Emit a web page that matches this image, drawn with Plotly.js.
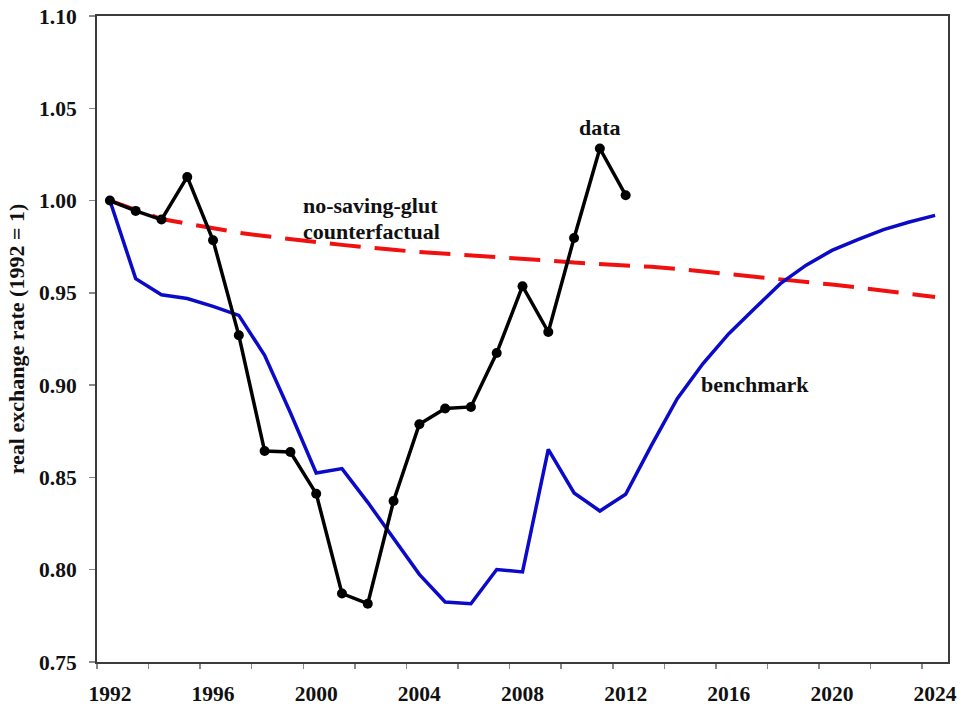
<!DOCTYPE html>
<html>
<head>
<meta charset="utf-8">
<script src="https://cdn.plot.ly/plotly-3.0.1.min.js"></script>
<style>
  html, body { margin: 0; padding: 0; background: #ffffff; }
  #chart { width: 964px; height: 707px; }
</style>
</head>
<body>
<div id="chart"></div>
<script>
// Real exchange rate paths, index 1992 = 1
const dataYears = [1992, 1993, 1994, 1995, 1996, 1997, 1998, 1999, 2000, 2001, 2002,
                   2003, 2004, 2005, 2006, 2007, 2008, 2009, 2010, 2011, 2012];
const dataValues = [1.000, 0.9944, 0.9897, 1.0128, 0.9785, 0.927, 0.8643, 0.8638, 0.8412, 0.7871, 0.7816,
                    0.8372, 0.8788, 0.8873, 0.8882, 0.9174, 0.9536, 0.9288, 0.9797, 1.0282, 1.0029];

const modelYears = [1992, 1993, 1994, 1995, 1996, 1997, 1998, 1999, 2000, 2001, 2002,
                    2003, 2004, 2005, 2006, 2007, 2008, 2009, 2010, 2011, 2012, 2013,
                    2014, 2015, 2016, 2017, 2018, 2019, 2020, 2021, 2022, 2023, 2024];
const benchmarkValues = [1.000, 0.9577, 0.949, 0.9469, 0.9427, 0.9378, 0.9162, 0.885, 0.8524, 0.8548, 0.8365,
                         0.817, 0.7975, 0.7825, 0.7816, 0.8001, 0.7988, 0.8652, 0.8416, 0.8318, 0.8409, 0.8674,
                         0.8927, 0.9117, 0.9279, 0.9415, 0.955, 0.965, 0.973, 0.9789, 0.9843, 0.9884, 0.992];
const counterfactualValues = [1.000, 0.9952, 0.990, 0.9875, 0.985, 0.9826, 0.9808, 0.979, 0.9775, 0.976, 0.9745,
                              0.9733, 0.9721, 0.9712, 0.9705, 0.9697, 0.9687, 0.9675, 0.9664, 0.9657, 0.965, 0.9641,
                              0.963, 0.9616, 0.9602, 0.959, 0.9578, 0.9562, 0.9545, 0.9529, 0.9512, 0.9495, 0.9478];

const xTickVals = [1992, 1996, 2000, 2004, 2008, 2012, 2016, 2020, 2024];
const xTickText = ["1992", "1996", "2000", "2004", "2008", "2012", "2016", "2020", "2024"];
const yTickVals = [0.75, 0.80, 0.85, 0.90, 0.95, 1.00, 1.05, 1.10];
const yTickText = ["0.75", "0.80", "0.85", "0.90", "0.95", "1.00", "1.05", "1.10"];

const serif = "Liberation Serif, Times New Roman, serif";
const axisColor = "#3c3c3c";

const traces = [
  {
    x: modelYears, y: counterfactualValues, type: "scatter", mode: "lines",
    line: { color: "#f01010", width: 4, dash: "31px,14px" },
    hoverinfo: "skip"
  },
  {
    x: modelYears, y: benchmarkValues, type: "scatter", mode: "lines",
    line: { color: "#0a0ac8", width: 3.5 },
    hoverinfo: "skip"
  },
  {
    x: dataYears, y: dataValues, type: "scatter", mode: "lines+markers",
    line: { color: "#000000", width: 3.5 },
    marker: { color: "#000000", size: 10 },
    hoverinfo: "skip"
  }
];

const labelFont = { family: serif, size: 22, color: "#111111", weight: "bold" };

const layout = {
  width: 964, height: 707,
  margin: { l: 97, r: 16, t: 16, b: 45, pad: 0 },
  paper_bgcolor: "#ffffff", plot_bgcolor: "#ffffff",
  showlegend: false,
  xaxis: {
    range: [1991.5, 2024.5],
    tickmode: "array", tickvals: xTickVals, ticktext: xTickText,
    ticks: "", ticklabelstandoff: 11,
    tickfont: { family: serif, size: 21.5, color: "#111111", weight: "bold" },
    minor: { tickmode: "linear", tick0: 1991.5, dtick: 2, ticks: "outside", ticklen: 5, tickwidth: 1.5, tickcolor: "#888888" },
    showgrid: false, zeroline: false,
    showline: true, linecolor: axisColor, linewidth: 2, mirror: true
  },
  yaxis: {
    range: [0.75, 1.10],
    tickmode: "array", tickvals: yTickVals, ticktext: yTickText,
    ticks: "outside", ticklen: 6, tickwidth: 1.5, tickcolor: "#888888",
    ticklabelstandoff: 8,
    tickfont: { family: serif, size: 21.5, color: "#111111", weight: "bold" },
    showgrid: false, zeroline: false,
    showline: true, linecolor: axisColor, linewidth: 2, mirror: true,
    title: { text: "real exchange rate (1992 = 1)", standoff: 8,
             font: { family: serif, size: 22, color: "#111111", weight: "bold" } }
  },
  annotations: [
    { x: 2011.0, y: 1.0397, xref: "x", yref: "y", text: "data", showarrow: false, font: labelFont },
    { x: 2002.1, y: 0.9974, xref: "x", yref: "y", text: "no-saving-glut", showarrow: false, font: labelFont },
    { x: 2002.15, y: 0.983, xref: "x", yref: "y", text: "counterfactual", showarrow: false, font: labelFont },
    { x: 2017.0, y: 0.9003, xref: "x", yref: "y", text: "benchmark", showarrow: false, font: labelFont }
  ]
};

Plotly.newPlot("chart", traces, layout, { staticPlot: true, displayModeBar: false });
</script>
</body>
</html>
